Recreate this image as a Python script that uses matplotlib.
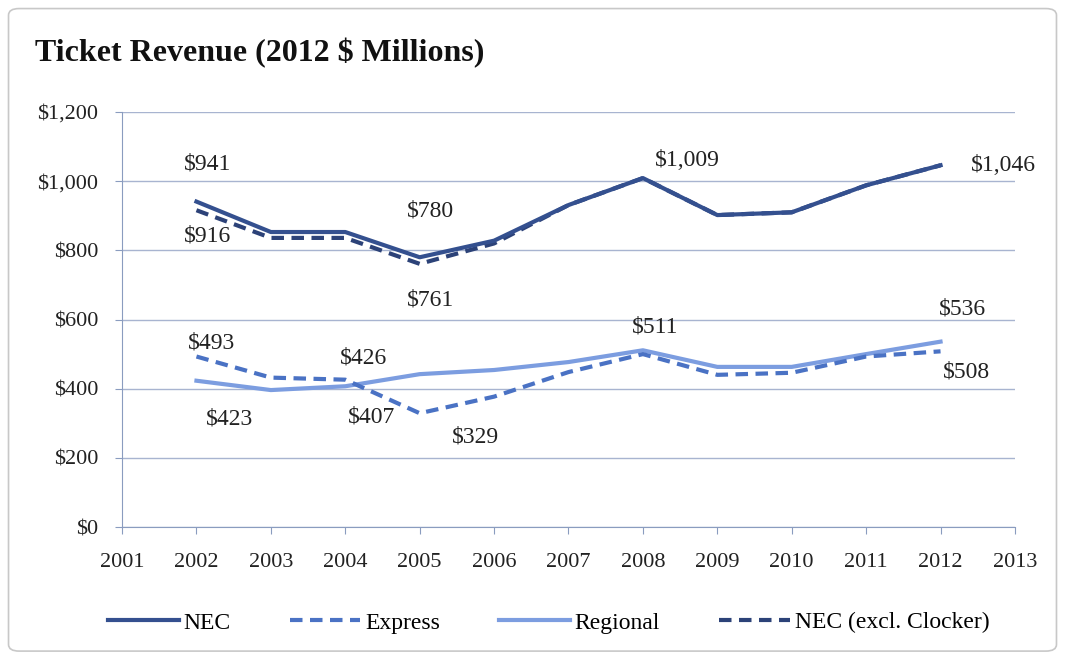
import matplotlib.pyplot as plt
from matplotlib.patches import FancyBboxPatch

years = [2002, 2003, 2004, 2005, 2006, 2007, 2008, 2009, 2010, 2011, 2012]
nec = [941, 853, 853, 780, 828, 931, 1009, 902, 910, 988, 1046]
express = [493, 432, 426, 329, 377, 448, 500, 440, 446, 493, 508]
regional = [423, 396, 407, 442, 454, 477, 511, 463, 463, 500, 536]
nec_excl = [916, 836, 836, 761, 820, 931, 1009, 902, 910, 988, 1046]

# (text, year, value) labels as placed in the source
labels = [
    ("$941", 2002, 941),
    ("$916", 2002, 916),
    ("$780", 2005, 780),
    ("$761", 2005, 761),
    ("$1,009", 2008, 1009),
    ("$1,046", 2012, 1046),
    ("$493", 2002, 493),
    ("$423", 2002, 423),
    ("$426", 2004, 426),
    ("$407", 2004, 407),
    ("$329", 2005, 329),
    ("$511", 2008, 511),
    ("$536", 2012, 536),
    ("$508", 2012, 508),
]
label_offsets = [(0.15, 110), (0.15, -75), (0.15, 135), (0.15, -105), (0.6, 50), (0.85, 0),
                 (0.2, 40), (0.45, -110), (0.25, 62), (0.35, -90), (0.75, -70), (0.16, 67),
                 (0.3, 95), (0.35, -60)]

plt.rcParams['font.family'] = ['Liberation Serif', 'DejaVu Serif']

fig = plt.figure(figsize=(10.65, 6.59), dpi=100)
fig.patches.append(FancyBboxPatch((0.008, 0.012), 0.984, 0.975, boxstyle="round,pad=0,rounding_size=0.01",
                                  transform=fig.transFigure, fill=False, edgecolor="#c8c8c8", lw=1.2))
ax = fig.add_axes([0.1146, 0.2003, 0.8384, 0.6297])

c_nec = "#34508f"
c_exp = "#4a72c4"
c_reg = "#7c9de0"
c_excl = "#2c4278"

ax.plot(years, regional, color=c_reg, lw=3, label="Regional", zorder=3)
ax.plot(years, express, color=c_exp, lw=3, ls=(0, (3, 1.8)), label="Express", zorder=4)
ax.plot(years, nec_excl, color=c_excl, lw=3, ls=(0, (3, 1.8)), label="NEC (excl. Clocker)", zorder=4)
ax.plot(years, nec, color=c_nec, lw=3, label="NEC", zorder=5)

for (txt, x, y), (dx, dy) in zip(labels, label_offsets):
    ax.text(x + dx, y + dy, txt, ha="center", va="center", fontsize=17, color="#222222")

ax.set_xlim(2001, 2013)
ax.set_ylim(0, 1200)
ax.set_xticks(range(2001, 2014))
ax.set_yticks(range(0, 1201, 200))
ax.set_yticklabels(["$0", "$200", "$400", "$600", "$800", "$1,000", "$1,200"])
ax.tick_params(labelsize=16, colors="#222222", length=5, color="#8a9cbf")
ax.tick_params(axis="x", pad=14)
ax.tick_params(axis="y", pad=12)
ax.grid(axis="y", color="#a8b4d0", lw=1)
ax.set_axisbelow(True)
for s in ["top", "right"]:
    ax.spines[s].set_visible(False)
for s in ["left", "bottom"]:
    ax.spines[s].set_color("#8a9cbf")

fig.text(0.033, 0.92, "Ticket Revenue (2012 $ Millions)", fontsize=23, fontweight="bold",
         color="#111111", va="center")

h, l = ax.get_legend_handles_labels()
order = [3, 1, 0, 2]
fig.legend([h[i] for i in order], [l[i] for i in order], loc="center", bbox_to_anchor=(0.515, 0.055),
           ncol=4, frameon=False, fontsize=17, handlelength=3, columnspacing=2.5, handletextpad=0.2)

fig.savefig("out.png", dpi=100)
